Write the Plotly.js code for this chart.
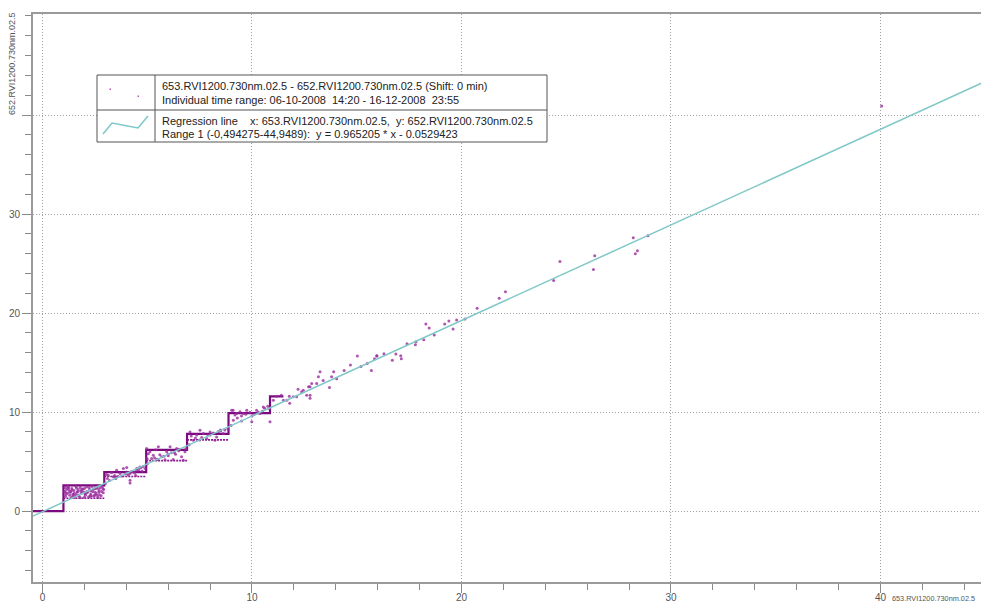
<!DOCTYPE html>
<html>
<head>
<meta charset="utf-8">
<script src="https://cdn.plot.ly/plotly-3.0.1.min.js"></script>
<style>html,body{margin:0;padding:0;background:#fff;overflow:hidden;}#chart{width:981px;height:605px;}</style>
</head>
<body>
<div id="chart"></div>
<script>
// ---- data ----
const xTitle = "653.RVI1200.730nm.02.5";
const yTitle = "652.RVI1200.730nm.02.5";
const xTickVals = [0, 10, 20, 30, 40];
const xTickText = ["0", "10", "20", "30", "40"];
const yTickVals = [0, 10, 20, 30, 40];
const yTickText = ["0", "10", "20", "30", ""];

// regression: y = 0.965205 * x - 0.0529423 over range (-0.494275 .. 44.9489)
const regSlope = 0.965205;
const regIntercept = -0.0529423;
const regRange = [-0.494275, 44.9489];

// staircase (dense quantised points forming steps)
const stepX = [-0.49, 1.0, 1.0, 2.95, 2.95, 4.95, 4.95, 6.9, 6.9, 8.88, 8.88, 10.86, 10.86, 11.5];
const stepY = [0, 0, 2.6, 2.6, 3.95, 3.95, 6.2, 6.2, 7.8, 7.8, 9.9, 9.9, 11.6, 11.6];
const stepBottomX = [1.0, 2.95, null, 2.95, 4.95, null, 4.95, 6.9, null, 6.9, 8.88];
const stepBottomY = [1.3, 1.3, null, 3.5, 3.5, null, 5.1, 5.1, null, 7.2, 7.2];

// scattered samples
const ptX = [
 1.1,1.15,1.2,1.25,1.3,1.35,1.4,1.45,1.5,1.55,1.6,1.65,1.7,1.75,1.8,1.85,1.9,2.0,2.05,2.1,2.15,2.2,2.25,2.3,2.35,2.4,2.45,2.5,2.55,2.6,2.65,2.7,2.75,2.8,2.85,2.9,1.1,1.2,1.4,1.6,1.8,2.0,2.3,2.6,
 1.05,1.12,1.22,1.32,1.42,1.52,1.62,1.72,1.82,1.92,2.02,2.12,2.22,2.32,2.42,2.52,2.62,2.72,2.82,2.92,1.08,1.28,1.48,1.68,1.88,2.08,2.28,2.48,2.68,2.88,
 3.14,3.54,3.86,4.18,4.18,4.5,4.65,4.02,3.7,3.38,4.18,4.34,3.2,3.6,4.8,3.05,3.3,3.45,3.8,3.95,4.1,4.25,4.4,4.6,4.75,4.9,3.1,3.5,4.0,4.45,4.7,
 4.97,5.13,5.29,5.45,5.69,5.93,6.09,6.4,6.64,6.72,6.24,5.53,5.21,6.0,6.5,5.05,5.35,5.6,5.8,6.15,6.35,6.55,6.8,5.0,5.4,5.85,6.3,6.85,
 7.04,7.36,7.68,8.0,8.31,8.63,8.23,7.84,7.2,7.52,8.5,7.1,7.3,7.6,7.9,8.15,8.4,8.7,8.85,
 9.03,9.19,9.43,9.75,9.99,10.22,10.54,10.86,10.38,9.11,9.58,9.27,9.1,10.83,9.3,9.5,9.7,9.9,10.1,10.3,10.6,10.75,
 11.02,11.5,11.97,12.45,12.77,13.09,13.4,12.61,12.13,11.18,11.4,11.66,11.8,11.78,12.2,12.37,12.7,12.85,12.77,12.77,13.17,13.25,13.7,13.8,13.9,14.04,14.4,14.7,15.2,15.5,15.7,15.03,15.97,
 15.85,15.95,16.3,16.7,16.87,17.1,17.13,17.4,17.8,17.83,18.2,18.3,18.46,18.7,19.2,19.4,19.6,19.77,20.17,20.75,21.8,22.1,
 24.4,24.7,26.3,26.36,28.2,28.3,28.4,28.9,40.06,
 1.5,2.0,2.5,3.0,3.5,4.0,4.5,5.0,5.5,6.0,6.5,7.0,7.5,8.0,8.5,9.0,9.5,10.0,10.5
];
const ptY = [
 1.5,2.2,1.8,2.4,1.6,2.0,2.3,1.7,2.1,1.4,2.5,1.9,2.2,1.5,2.4,1.8,2.0,2.3,1.6,2.45,1.9,1.45,2.2,1.7,2.5,1.95,1.5,2.3,1.75,2.45,1.4,2.1,2.35,1.55,2.5,1.85,1.9,2.5,1.4,1.65,1.35,1.4,2.05,1.6,
 2.0,1.7,2.3,1.9,2.15,1.8,2.35,1.6,2.05,2.25,1.75,2.0,2.4,1.55,2.2,1.9,2.3,1.65,2.0,2.2,2.4,2.1,1.6,2.0,2.2,1.8,1.5,1.6,1.9,2.3,
 3.64,4.14,4.3,3.13,2.85,4.14,4.47,4.4,3.8,3.47,3.8,3.97,3.1,3.5,4.5,3.7,3.9,3.6,3.55,3.75,3.65,4.0,3.85,4.2,4.05,4.3,3.3,3.4,3.95,3.6,4.4,
 6.33,6.0,5.66,5.22,5.49,6.0,6.5,6.33,5.49,5.15,5.22,6.5,5.32,5.6,6.1,5.8,5.4,5.7,5.55,5.9,5.75,6.2,6.0,5.3,6.2,5.2,5.9,6.3,
 8.0,7.68,7.85,8.0,7.5,7.85,7.17,7.34,7.17,8.18,8.1,7.6,7.4,7.45,7.7,7.9,8.05,8.2,8.3,
 10.2,9.7,10.03,10.2,9.02,10.2,10.53,9.02,9.87,9.19,9.87,9.87,10.2,10.37,9.4,9.6,9.8,10.0,9.75,10.0,10.4,10.6,
 11.2,11.2,11.55,12.2,12.56,12.9,13.2,11.7,11.55,11.6,11.7,11.2,10.9,11.6,12.3,12.05,12.56,12.9,11.7,11.4,13.57,14.07,12.5,13.57,14.07,13.36,14.2,14.75,14.6,14.9,14.2,15.66,15.7,
 15.4,15.66,15.9,15.25,15.86,15.7,15.4,16.9,16.8,17.1,17.3,18.9,18.5,17.8,18.9,19.2,18.4,19.3,19.4,20.5,21.5,22.15,
 23.3,25.2,24.4,25.8,27.6,26.0,26.3,27.8,40.9,
 1.4,1.9,2.35,2.8,3.3,3.8,4.3,4.8,5.25,5.75,6.25,6.7,7.2,7.7,8.2,8.65,9.1,9.6,10.1
];

// ---- layout helpers (pixel -> paper) ----
const L = 33, T = 14, W = 948, H = 568;
const px = v => (v - L) / W;
const py = v => (T + H - v) / H;

const regX = regRange.slice();
const regY = regRange.map(x => regSlope * x + regIntercept);

const traces = [
  {x: stepX, y: stepY, mode: 'lines', line: {color: '#7a0a7e', width: 2.2}, hoverinfo: 'skip', showlegend: false},
  {x: stepBottomX, y: stepBottomY, mode: 'lines', line: {color: '#8a1a8c', width: 1.6, dash: '2px,1px'}, hoverinfo: 'skip', showlegend: false, connectgaps: false},
  {x: ptX, y: ptY, mode: 'markers', marker: {color: '#9a2a9e', size: 3, opacity: 0.8}, showlegend: false},
  {x: regX, y: regY, mode: 'lines', line: {color: '#80c8c8', width: 1.5}, showlegend: false}
];

const fontFam = '"Liberation Sans", Arial, sans-serif';
const axisCommon = {
  showline: true, linecolor: '#9a9a9a', linewidth: 2,
  ticks: 'outside', ticklen: 9, tickcolor: '#8a8a8a', tickwidth: 1,
  showgrid: true, gridcolor: '#a0a0a0', griddash: '1px,2px', gridwidth: 1,
  zeroline: false, tickmode: 'array',
  tickfont: {family: fontFam, size: 10, color: '#555'},
  minor: {dtick: 2, ticklen: 6, tickcolor: '#8a8a8a', showgrid: false, ticks: 'outside'}
};

const legendText = [
  {t: "653.RVI1200.730nm.02.5 - 652.RVI1200.730nm.02.5 (Shift: 0 min)", y: 86},
  {t: "Individual time range: 06-10-2008\u00a0\u00a014:20 - 16-12-2008\u00a0\u00a023:55", y: 99.5},
  {t: "Regression line\u00a0\u00a0\u00a0\u00a0x: 653.RVI1200.730nm.02.5,\u00a0\u00a0y: 652.RVI1200.730nm.02.5", y: 120.5},
  {t: "Range 1 (-0,494275-44,9489):\u00a0\u00a0y = 0.965205 * x - 0.0529423", y: 133.5}
];

const annotations = legendText.map(o => ({
  xref: 'paper', yref: 'paper', x: px(160), y: py(o.y), xanchor: 'left', yanchor: 'middle',
  text: o.t, showarrow: false, font: {family: fontFam, size: 11, color: '#222'}
}));
annotations.push({
  xref: 'paper', yref: 'paper', x: px(12), y: py(64), xanchor: 'center', yanchor: 'middle',
  text: yTitle, textangle: -90, showarrow: false, font: {family: fontFam, size: 9, color: '#555'}
});
annotations.push({
  xref: 'paper', yref: 'paper', x: px(890), y: py(598), xanchor: 'left', yanchor: 'middle',
  text: xTitle, showarrow: false, font: {family: fontFam, size: 7.3, color: '#555'}
});

const shapes = [
  {type: 'rect', xref: 'paper', yref: 'paper', x0: px(97), x1: px(547), y0: py(75), y1: py(142),
   line: {color: '#555', width: 1}, fillcolor: 'rgba(255,255,255,1)', layer: 'above'},
  {type: 'line', xref: 'paper', yref: 'paper', x0: px(155), x1: px(155), y0: py(75), y1: py(142),
   line: {color: '#555', width: 1}, layer: 'above'},
  {type: 'line', xref: 'paper', yref: 'paper', x0: px(97), x1: px(547), y0: py(110), y1: py(110),
   line: {color: '#555', width: 1}, layer: 'above'},
  {type: 'path', xref: 'paper', yref: 'paper', layer: 'above',
   path: `M ${px(103)} ${py(134)} L ${px(112)} ${py(123)} L ${px(138)} ${py(128)} L ${px(148)} ${py(116)}`,
   line: {color: '#7cc8c8', width: 1.5}},
  {type: 'rect', xref: 'paper', yref: 'paper', layer: 'above', x0: px(109.5), x1: px(111), y0: py(88.5), y1: py(90),
   line: {width: 0}, fillcolor: '#c050c0'},
  {type: 'rect', xref: 'paper', yref: 'paper', layer: 'above', x0: px(137.5), x1: px(139), y0: py(95.5), y1: py(97),
   line: {width: 0}, fillcolor: '#c050c0'}
];

const layout = {
  width: 981, height: 605,
  margin: {l: L, r: 0, t: T, b: 605 - T - H, pad: 0},
  paper_bgcolor: '#fff', plot_bgcolor: '#fff',
  showlegend: false,
  xaxis: Object.assign({}, axisCommon, {range: [-0.453, 44.8], tickvals: xTickVals, ticktext: xTickText, mirror: true, ticklabelstandoff: -4}),
  yaxis: Object.assign({}, axisCommon, {range: [-7.15, 50.2], tickvals: yTickVals, ticktext: yTickText, mirror: false}),
  annotations: annotations,
  shapes: shapes
};

Plotly.newPlot('chart', traces, layout, {staticPlot: true, displayModeBar: false});
</script>
</body>
</html>
